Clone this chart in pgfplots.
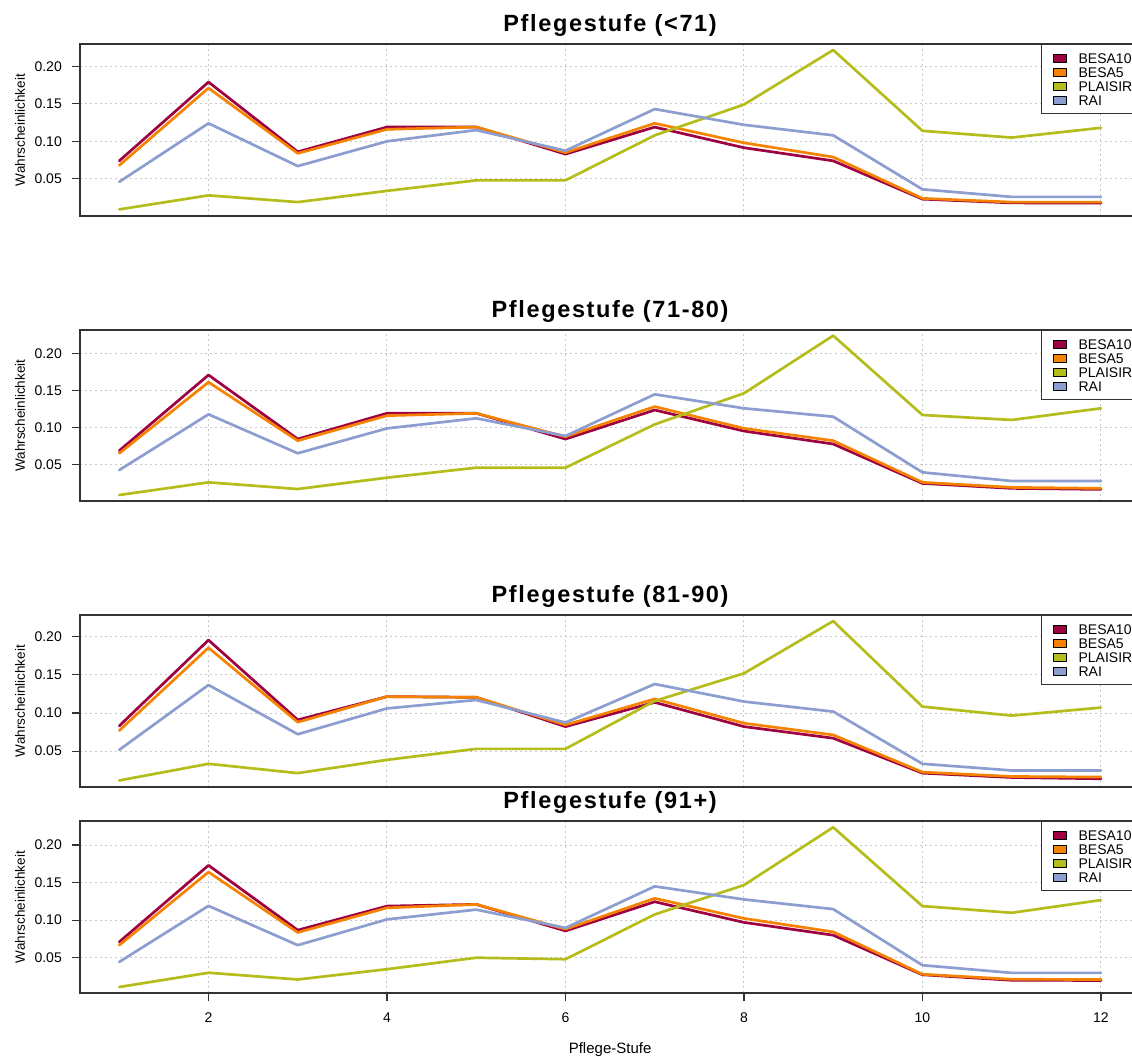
\documentclass[border=0pt]{standalone}
\usepackage{fontspec}
\setmainfont{Liberation Sans}
\usepackage{pgfplots}
\pgfplotsset{compat=1.18}

\definecolor{cBten}{HTML}{9E0142}
\definecolor{cBfive}{HTML}{F58200}
\definecolor{cPL}{HTML}{B5BD1C}
\definecolor{cRAI}{HTML}{8C9ECF}
\definecolor{gridc}{HTML}{C8C8C8}
\definecolor{framec}{HTML}{333333}

\pgfplotsset{
  sw/.style={legend image code/.code={\filldraw[fill=#1,draw=black,line width=1pt] (0pt,-4pt) rectangle (13pt,4pt);}},
  ser/.style={color=#1, line width=2.7pt, line join=round, line cap=round, sw=#1},
  panel/.style={
    scale only axis, width=1060.2pt, height=172pt,
    xmin=0.56, xmax=12.44,
    xtick={2,4,6,8,10,12},
    ytick={0.05,0.10,0.15,0.20},
    grid=major,
    major grid style={gridc, line width=1pt, dash pattern=on 2pt off 3pt},
    axis line style={framec, line width=1.4pt},
    tick align=outside, tick pos=left,
    major tick length=8pt,
    every tick/.style={framec, line width=1.2pt},
    /pgf/number format/assume math mode=true,
    yticklabel style={/pgf/number format/.cd, fixed, fixed zerofill, precision=2, /tikz/.cd,
      font=\fontsize{14}{14}\selectfont, inner sep=0pt, xshift=-10pt},
    xticklabel style={font=\fontsize{14}{14}\selectfont, inner sep=0pt, yshift=-12pt},
    title style={font=\bfseries\fontsize{23.5}{23.5}\selectfont\addfontfeatures{LetterSpace=7}, at={(0.5,1)}, anchor=base, yshift=6.5pt},
    ylabel={Wahrscheinlichkeit},
    ylabel style={font=\fontsize{13.5}{13.5}\selectfont, at={(axis description cs:-0.0519,0.5)}, anchor=base},
    legend style={at={(0.9064,1)}, anchor=north west, draw=framec, line width=1.3pt, fill=white,
      font=\fontsize{14}{14}\selectfont, inner xsep=11pt, inner ysep=7.5pt, row sep=2pt,
      nodes={inner sep=0pt, text height=11pt, text depth=1pt},
      /tikz/every odd column/.append style={column sep=12pt}},
    legend cell align=left,
  },
  noxt/.style={xticklabels={}, xtick style={draw=none}},
}

\begin{document}
\begin{tikzpicture}
\path[use as bounding box, clip] (0pt,0pt) rectangle (1132pt,-1057pt);

% Panel 1
\begin{axis}[panel, noxt, at={(80pt,-44pt)}, anchor=north west,
  ymin=0.0005, ymax=0.2297, title={Pflegestufe (<71)}]
\addplot[ser=cBten] coordinates {(1,0.074)(2,0.179)(3,0.086)(4,0.119)(5,0.119)(6,0.083)(7,0.119)(8,0.0915)(9,0.074)(10,0.023)(11,0.018)(12,0.0177)};
\addlegendentry{BESA10}
\addplot[ser=cBfive] coordinates {(1,0.068)(2,0.171)(3,0.084)(4,0.116)(5,0.119)(6,0.085)(7,0.124)(8,0.098)(9,0.079)(10,0.024)(11,0.019)(12,0.019)};
\addlegendentry{BESA5}
\addplot[ser=cPL] coordinates {(1,0.0093)(2,0.028)(3,0.019)(4,0.034)(5,0.048)(6,0.048)(7,0.108)(8,0.149)(9,0.2217)(10,0.114)(11,0.105)(12,0.118)};
\addlegendentry{PLAISIR}
\addplot[ser=cRAI] coordinates {(1,0.046)(2,0.124)(3,0.067)(4,0.100)(5,0.115)(6,0.0875)(7,0.143)(8,0.122)(9,0.108)(10,0.036)(11,0.026)(12,0.026)};
\addlegendentry{RAI}
\end{axis}

% Panel 2
\begin{axis}[panel, noxt, at={(80pt,-330pt)}, anchor=north west, height=171pt,
  ymin=0.0005, ymax=0.2315, title={Pflegestufe (71-80)}]
\addplot[ser=cBten] coordinates {(1,0.0685)(2,0.1707)(3,0.0842)(4,0.119)(5,0.119)(6,0.0842)(7,0.1234)(8,0.095)(9,0.0775)(10,0.0243)(11,0.0176)(12,0.0162)};
\addlegendentry{BESA10}
\addplot[ser=cBfive] coordinates {(1,0.065)(2,0.161)(3,0.082)(4,0.1158)(5,0.119)(6,0.0874)(7,0.128)(8,0.0986)(9,0.082)(10,0.0257)(11,0.0189)(12,0.0176)};
\addlegendentry{BESA5}
\addplot[ser=cPL] coordinates {(1,0.0086)(2,0.0257)(3,0.0167)(4,0.032)(5,0.0455)(6,0.0455)(7,0.104)(8,0.146)(9,0.2239)(10,0.1167)(11,0.110)(12,0.1257)};
\addlegendentry{PLAISIR}
\addplot[ser=cRAI] coordinates {(1,0.0423)(2,0.1176)(3,0.065)(4,0.0986)(5,0.1122)(6,0.0883)(7,0.1446)(8,0.1257)(9,0.1144)(10,0.0392)(11,0.0275)(12,0.0275)};
\addlegendentry{RAI}
\end{axis}

% Panel 3
\begin{axis}[panel, noxt, at={(80pt,-615pt)}, anchor=north west,
  ymin=0.003, ymax=0.2285, title={Pflegestufe (81-90)}]
\addplot[ser=cBten] coordinates {(1,0.0831)(2,0.1956)(3,0.091)(4,0.1215)(5,0.1206)(6,0.0822)(7,0.114)(8,0.0822)(9,0.067)(10,0.0212)(11,0.0155)(12,0.0138)};
\addlegendentry{BESA10}
\addplot[ser=cBfive] coordinates {(1,0.077)(2,0.1856)(3,0.088)(4,0.1215)(5,0.1206)(6,0.0844)(7,0.1184)(8,0.0866)(9,0.0713)(10,0.0225)(11,0.0168)(12,0.016)};
\addlegendentry{BESA5}
\addplot[ser=cPL] coordinates {(1,0.0116)(2,0.0334)(3,0.0212)(4,0.0386)(5,0.053)(6,0.053)(7,0.1158)(8,0.152)(9,0.2205)(10,0.1084)(11,0.0966)(12,0.1071)};
\addlegendentry{PLAISIR}
\addplot[ser=cRAI] coordinates {(1,0.0517)(2,0.1368)(3,0.0722)(4,0.106)(5,0.1171)(6,0.0875)(7,0.138)(8,0.115)(9,0.1019)(10,0.0334)(11,0.0247)(12,0.0247)};
\addlegendentry{RAI}
\end{axis}

% Panel 4
\begin{axis}[panel, at={(80pt,-821pt)}, anchor=north west,
  ymin=0.003, ymax=0.232, title={Pflegestufe (91+)},
  xlabel={Pflege-Stufe},
  xlabel style={font=\fontsize{15}{15}\selectfont, at={(axis description cs:0.5,0)}, anchor=base, yshift=-60pt}]
\addplot[ser=cBten] coordinates {(1,0.071)(2,0.173)(3,0.0867)(4,0.1187)(5,0.121)(6,0.0857)(7,0.1245)(8,0.097)(9,0.080)(10,0.0273)(11,0.020)(12,0.0197)};
\addlegendentry{BESA10}
\addplot[ser=cBfive] coordinates {(1,0.0667)(2,0.164)(3,0.0836)(4,0.1164)(5,0.121)(6,0.088)(7,0.129)(8,0.1023)(9,0.0844)(10,0.028)(11,0.0213)(12,0.021)};
\addlegendentry{BESA5}
\addplot[ser=cPL] coordinates {(1,0.011)(2,0.030)(3,0.021)(4,0.0347)(5,0.050)(6,0.048)(7,0.1076)(8,0.1467)(9,0.2236)(10,0.1187)(11,0.1098)(12,0.1267)};
\addlegendentry{PLAISIR}
\addplot[ser=cRAI] coordinates {(1,0.0444)(2,0.119)(3,0.0667)(4,0.101)(5,0.114)(6,0.0897)(7,0.145)(8,0.1276)(9,0.1147)(10,0.040)(11,0.0298)(12,0.0298)};
\addlegendentry{RAI}
\end{axis}
\end{tikzpicture}
\end{document}
